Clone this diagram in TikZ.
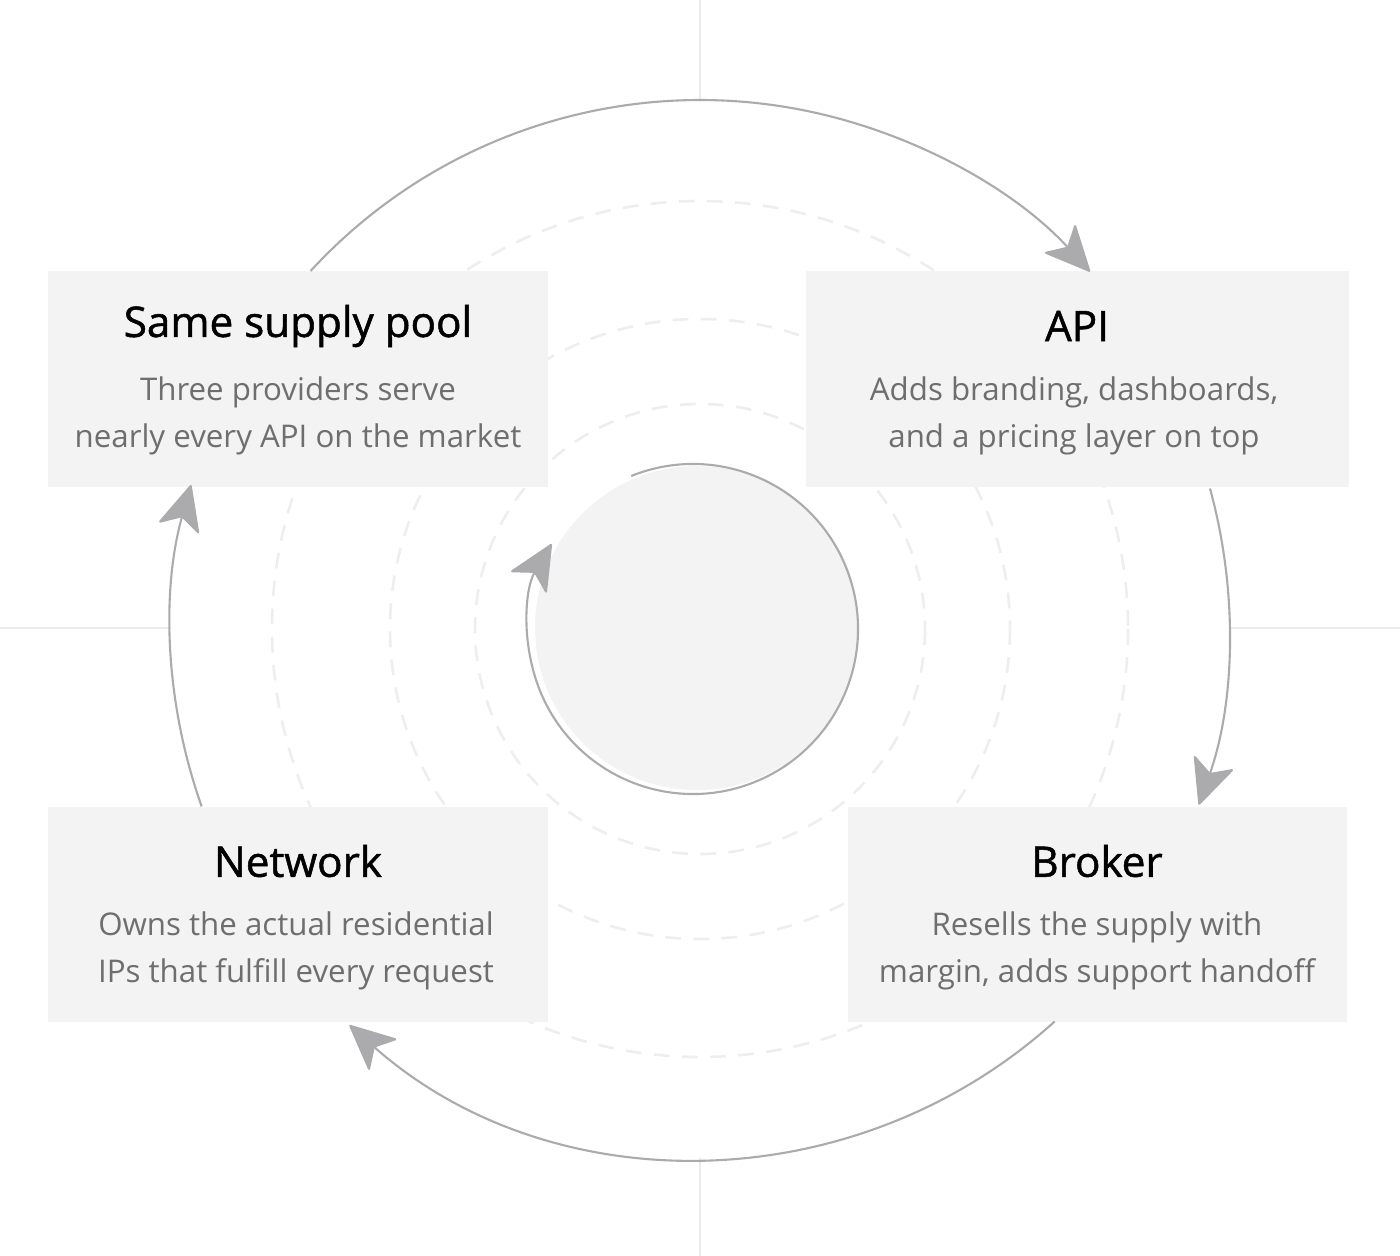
\documentclass[tikz,border=0pt]{standalone}
\usepackage{fontspec}
\setmainfont{Open Sans}
\newfontfamily\ttlfont[FakeBold=1.2]{Open Sans}
\usetikzlibrary{arrows.meta}
\definecolor{boxfill}{HTML}{F3F3F3}
\definecolor{arcc}{HTML}{ABABAD}
\definecolor{dashc}{HTML}{EEEEEE}
\definecolor{bodyc}{HTML}{6E6E6E}
\begin{document}
\begin{tikzpicture}[x=0.02cm,y=-0.02cm,
  card/.style={fill=boxfill,draw=none},
  ttl/.style={font=\ttlfont\fontsize{24}{28}\selectfont, text=black, anchor=center},
  bod/.style={font=\fontsize{17.8}{27}\selectfont, text=bodyc, align=center, anchor=center},
  flow/.style={draw=arcc,line width=1.2pt,-{Stealth[length=27pt,width=25pt,inset=7pt,round]}},
  dring/.style={draw=dashc,line width=1.5pt,dash pattern=on 9pt off 7pt},
  tick/.style={draw=dashc!70!gray!40,line width=0.8pt}]
\useasboundingbox (0,0) rectangle (1400,1256);
\coordinate (C) at (700,629);
\coordinate (I) at (693,629);
% dashed rings
\draw[dring] (C) circle[radius=225];
\draw[dring] (C) circle[radius=310];
\draw[dring] (C) circle[radius=428];
% ticks
\coordinate (t1) at (700,0); \coordinate (t1b) at (700,100);
\coordinate (t2) at (700,1158); \coordinate (t2b) at (700,1256);
\coordinate (t3) at (0,628); \coordinate (t3b) at (171,628);
\coordinate (t4) at (1229,628); \coordinate (t4b) at (1400,628);
\draw[tick] (t1)--(t1b); \draw[tick] (t2)--(t2b);
\draw[tick] (t3)--(t3b); \draw[tick] (t4)--(t4b);
% boxes
\path[card] (48,271) rectangle (548,487);
\path[card] (806,271) rectangle (1349,487);
\path[card] (48,807) rectangle (548,1022);
\path[card] (848,807) rectangle (1347,1022);
\node[ttl] (t_pool) at (298,326) {Same supply pool};
\node[bod] (b_pool) at (298,416) {Three providers serve\\nearly every API on the market};
\node[ttl] (t_api) at (1077,326) {API};
\node[bod] (b_api) at (1074,416) {Adds branding, dashboards,\\and a pricing layer on top};
\node[ttl] (t_net) at (298,861) {Network};
\node[bod] (b_net) at (296,951) {Owns the actual residential\\IPs that fulfill every request};
\node[ttl] (t_brk) at (1097,861) {Broker};
\node[bod] (b_brk) at (1097,951) {Resells the supply with\\margin, adds support handoff};
% outer arcs
\draw[flow] ([shift={(-137.4:529)}]C) arc[start angle=-137.4,end angle=-42.5,radius=529];
\draw[flow] ([shift={(-15.4:529)}]C) arc[start angle=-15.4,end angle=19.4,radius=529];
\draw[flow] ([shift={(47.9:529)}]C) arc[start angle=47.9,end angle=131.5,radius=529];
\draw[flow] ([shift={(160.4:529)}]C) arc[start angle=160.4,end angle=195.8,radius=529];
% inner circle
\fill[boxfill] (697,628) circle[radius=162];
\draw[flow] ([shift={(-112:165)}]I) arc[start angle=-112,end angle=211,radius=165];
\end{tikzpicture}
\end{document}
